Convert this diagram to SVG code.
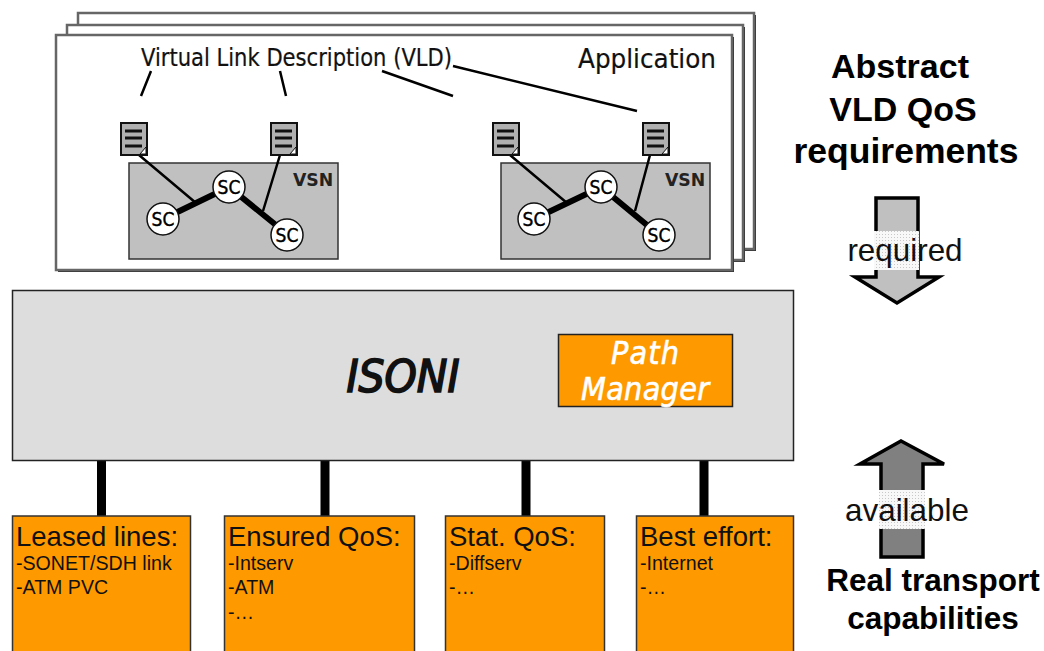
<svg xmlns="http://www.w3.org/2000/svg" width="1044" height="651" viewBox="0 0 1044 651">
<style>
.frame{fill:#fff;stroke:#666;stroke-width:2.5}
.shadow{fill:#333}
.vsn{fill:#c0c0c0;stroke:#333;stroke-width:1.5}
.doc{fill:#b0b0b0;stroke:#111;stroke-width:2}
.rule{stroke:#111;stroke-width:3}
.fold{fill:#fff;stroke:#111;stroke-width:1}
.thin{stroke:#000;stroke-width:2.500;fill:none}
.thick{stroke:#000;stroke-width:6;fill:none}
.bar{stroke:#000;stroke-width:9;fill:none}
.sc circle{fill:#fff;stroke:#111;stroke-width:1.5}
.sc text{font:19px "DejaVu Sans Condensed","DejaVu Sans",sans-serif;text-anchor:middle;stroke:#000;stroke-width:.4;fill:#000}
.h{font-family:"DejaVu Sans Condensed","DejaVu Sans",sans-serif;fill:#111;stroke:#111;stroke-width:.2}
.a{font-family:"Liberation Sans",Arial,sans-serif;fill:#111}
.title{font-family:"Liberation Sans",Arial,sans-serif;font-weight:bold;fill:#000;text-anchor:middle}
.t1{font-size:34px}
.t2{font-size:31.500px}
.box{fill:#ff9900;stroke:#333;stroke-width:1.5}
.big{font-size:27.500px}
.small{font-size:19.600px}
.lab{font-size:31.400px;text-anchor:middle}
.vsnl{font:bold 17.300px "DejaVu Sans",sans-serif;fill:#222}
.hatch{fill:url(#dots)}
.pm{font-family:"DejaVu Sans Condensed","DejaVu Sans",sans-serif;font-size:32px;font-style:italic;fill:#fff;stroke:#fff;stroke-width:.6;text-anchor:middle}
</style>
<defs>
<pattern id="dots" width="3" height="3" patternUnits="userSpaceOnUse"><rect width="3" height="3" fill="#f8f8f8"/><rect width="1" height="1" fill="#c8c8c8"/></pattern>
<g id="docicon">
<rect class="doc" x="0" y="0" width="26" height="32"/>
<path class="fold" d="M25 24 L25 31 L19 31 Z"/>
<path class="rule" d="M4 8H21M4 15H21M4 23H21"/>
</g>
</defs>

<g id="app-stack">
<rect class="shadow" x="80" y="15" width="676" height="236"/>
<rect class="frame" x="78" y="13" width="676" height="236"/>
<rect class="shadow" x="69" y="27" width="676" height="235"/>
<rect class="frame" x="67" y="25" width="676" height="235"/>
<rect class="shadow" x="58" y="37" width="676" height="235"/>
<rect class="frame" x="56" y="35" width="676" height="235"/>
<text class="h" x="141" y="66" font-size="24" textLength="311" lengthAdjust="spacingAndGlyphs">Virtual Link Description (VLD)</text>
<text class="h" x="578" y="68" font-size="27" textLength="138" lengthAdjust="spacingAndGlyphs">Application</text>
</g>

<g id="vsn-left">
<rect class="vsn" x="129" y="163" width="209" height="96"/>
<text class="vsnl" x="293" y="186">VSN</text>
</g>
<g id="vsn-right">
<rect class="vsn" x="501" y="163" width="209" height="96"/>
<text class="vsnl" x="665" y="186">VSN</text>
</g>

<g id="connectors">
<path class="thin" d="M151 71L141 96M280 71L286 96M382 71L453 96M453 66L637 111"/>
<path class="thick" d="M163 219L229 187L287 234M534 219L601 187L659 235"/>
<path class="thin" d="M139 155L196 203M280 155L263 211M510 155L567 203M650 155L635 211"/>
<path class="bar" d="M101.500 460V516M325 460V516M526 460V516M704 460V516"/>
</g>

<g id="doc-1"><use href="#docicon" x="121" y="123"/></g>
<g id="doc-2"><use href="#docicon" x="271" y="123"/></g>
<g id="doc-3"><use href="#docicon" x="493" y="123"/></g>
<g id="doc-4"><use href="#docicon" x="643" y="123"/></g>

<g id="sc-1" class="sc" transform="translate(163 219)"><circle r="16"/><text y="6.500">SC</text></g>
<g id="sc-2" class="sc" transform="translate(229 187)"><circle r="16"/><text y="6.500">SC</text></g>
<g id="sc-3" class="sc" transform="translate(287 235)"><circle r="16"/><text y="6.500">SC</text></g>
<g id="sc-4" class="sc" transform="translate(534 219)"><circle r="16"/><text y="6.500">SC</text></g>
<g id="sc-5" class="sc" transform="translate(601 187)"><circle r="16"/><text y="6.500">SC</text></g>
<g id="sc-6" class="sc" transform="translate(659 235)"><circle r="16"/><text y="6.500">SC</text></g>

<g id="isoni">
<rect x="12.500" y="290.500" width="781" height="170" fill="#dddddd" stroke="#222" stroke-width="1.500"/>
<text x="403" y="392" text-anchor="middle" font-family="'DejaVu Sans Condensed','DejaVu Sans',sans-serif" font-size="45" font-style="italic" fill="#111" stroke="#111" stroke-width="1.600" textLength="113" lengthAdjust="spacingAndGlyphs">ISONI</text>
</g>
<g id="path-manager">
<rect x="558.500" y="334.500" width="174" height="72" fill="#ff9900" stroke="#222" stroke-width="1.500"/>
<text class="pm" x="645" y="364" textLength="68" lengthAdjust="spacing">Path</text>
<text class="pm" x="645" y="400" textLength="128" lengthAdjust="spacing">Manager</text>
</g>

<g id="leased">
<rect class="box" x="12.500" y="516" width="178" height="140"/>
<text class="a big" x="16" y="546">Leased lines:</text>
<text class="a small" x="16" y="570">-SONET/SDH link</text>
<text class="a small" x="16" y="594">-ATM PVC</text>
</g>
<g id="ensured">
<rect class="box" x="224.500" y="516" width="190" height="140"/>
<text class="a big" x="228" y="546">Ensured QoS:</text>
<text class="a small" x="228" y="570">-Intserv</text>
<text class="a small" x="228" y="594">-ATM</text>
<text class="a small" x="228" y="619">-…</text>
</g>
<g id="stat">
<rect class="box" x="445.500" y="516" width="159" height="140"/>
<text class="a big" x="449" y="546">Stat. QoS:</text>
<text class="a small" x="449" y="570">-Diffserv</text>
<text class="a small" x="449" y="594">-…</text>
</g>
<g id="best">
<rect class="box" x="636.500" y="516" width="157" height="140"/>
<text class="a big" x="640" y="546">Best effort:</text>
<text class="a small" x="640" y="570">-Internet</text>
<text class="a small" x="640" y="594">-…</text>
</g>

<g id="abstract">
<text class="title t1" x="900" y="78">Abstract</text>
<text class="title t1" x="903" y="121">VLD QoS</text>
<text class="title" style="font-size:35.500px" x="906" y="163">requirements</text>
</g>
<g id="required-arrow">
<path d="M876 198H918V277H939L897 303L855 277H876Z" fill="#c0c0c0" stroke="#000" stroke-width="3.500"/>
<rect class="hatch" x="874" y="231" width="45" height="39"/>
<text class="a lab" x="905" y="261">required</text>
</g>
<g id="available-arrow">
<path d="M881 557H923V464H944L901 441L860 464H881Z" fill="#808080" stroke="#000" stroke-width="3.500"/>
<rect class="hatch" x="879" y="490" width="46" height="39"/>
<text class="a lab" x="907" y="521">available</text>
</g>
<g id="real">
<text class="title t2" x="933" y="591">Real transport</text>
<text class="title t2" x="933" y="629">capabilities</text>
</g>
</svg>
